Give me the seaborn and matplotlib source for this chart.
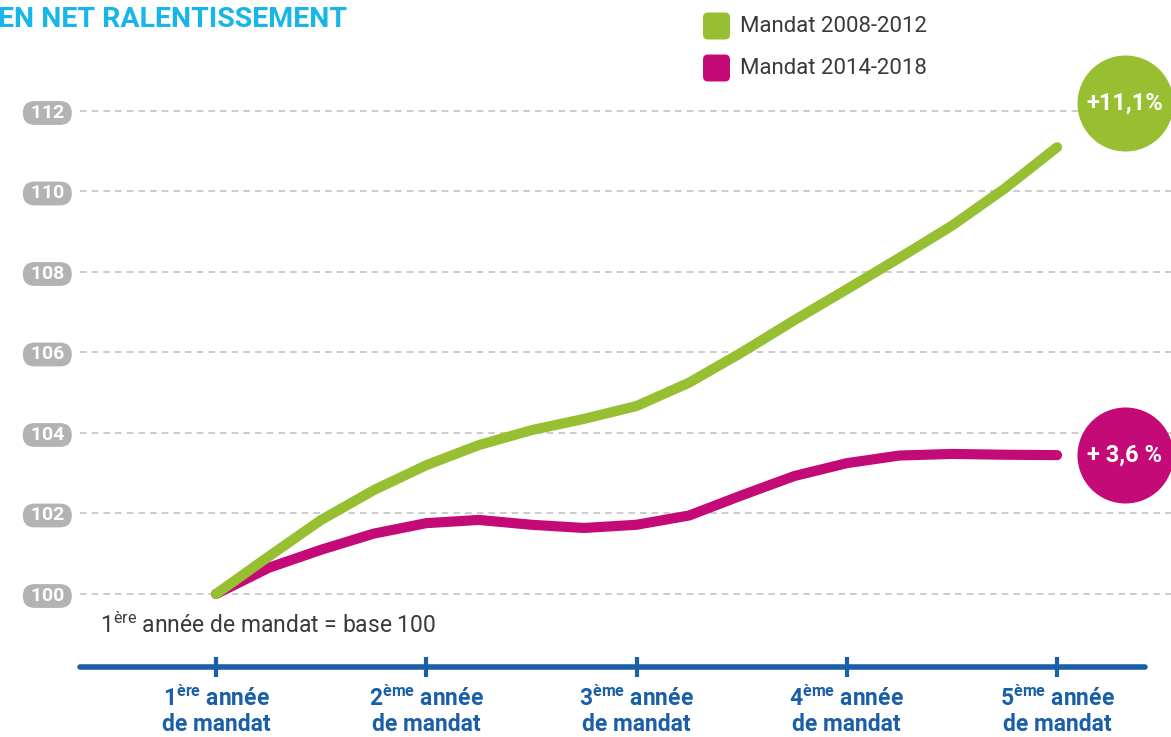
import numpy as np
import pandas as pd
import matplotlib
matplotlib.use("Agg")
import matplotlib.pyplot as plt
import seaborn as sns
from matplotlib.patches import FancyBboxPatch
from matplotlib.transforms import IdentityTransform

# Data (index, 1st year of mandate = base 100)
annees = [1.0, 1.25, 1.5, 1.75, 2.0, 2.25, 2.5, 2.75, 3.0,
          3.25, 3.5, 3.75, 4.0, 4.25, 4.5, 4.75, 5.0]
indice_2008 = [100.0, 100.93, 101.84, 102.58, 103.2, 103.7, 104.07, 104.35, 104.67,
               105.25, 106.0, 106.8, 107.57, 108.35, 109.15, 110.07, 111.1]
indice_2014 = [100.0, 100.65, 101.1, 101.5, 101.76, 101.84, 101.72, 101.64, 101.72,
               101.95, 102.45, 102.93, 103.25, 103.44, 103.48, 103.46, 103.45]
mandats = ["Mandat 2008-2012", "Mandat 2014-2018"]
hausses = ["+11,1%", "+ 3,6 %"]
y_ticks = [100, 102, 104, 106, 108, 110, 112]
x_ticks = [1, 2, 3, 4, 5]
x_labels = [r"1$^{\mathbf{ère}}$ année" + "\nde mandat",
            r"2$^{\mathbf{ème}}$ année" + "\nde mandat",
            r"3$^{\mathbf{ème}}$ année" + "\nde mandat",
            r"4$^{\mathbf{ème}}$ année" + "\nde mandat",
            r"5$^{\mathbf{ème}}$ année" + "\nde mandat"]

VERT = "#97bf31"
MAGENTA = "#c40a76"
BLEU = "#1a5fa8"
CYAN = "#17b6e8"
GRIS = "#b3b3b3"
TEXTE = "#3a3a3a"

sns.set_theme(style="white")
plt.rcParams["font.family"] = ["Roboto", "DejaVu Sans"]
plt.rcParams["mathtext.fontset"] = "custom"
plt.rcParams["mathtext.rm"] = "Roboto"
plt.rcParams["mathtext.bf"] = "Roboto:bold"
plt.rcParams["mathtext.it"] = "Roboto:italic"

df = pd.DataFrame({
    "annee": annees * 2,
    "indice": indice_2014 + indice_2008,
    "mandat": [mandats[1]] * len(annees) + [mandats[0]] * len(annees),
})

W, H = 1171, 737
fig = plt.figure(figsize=(W / 100, H / 100), dpi=100)
ax = fig.add_axes([80 / W, 1 - 690 / H, (W - 80) / W, 590 / H])

sns.lineplot(data=df, x="annee", y="indice", hue="mandat",
             hue_order=[mandats[1], mandats[0]],
             palette={mandats[0]: VERT, mandats[1]: MAGENTA},
             linewidth=7.3, legend=False, sort=False, ax=ax, zorder=3)
for line in ax.lines:
    line.set_solid_capstyle("round")
    line.set_solid_joinstyle("round")

ax.set_xlim(0.353, 5.542)
ax.set_ylim(97.615, 112.273)

# y axis: grey pills + dashed grid
ax.set_yticks(y_ticks)
ax.set_yticklabels([f" {v} " for v in y_ticks])
ax.tick_params(axis="y", labelsize=14, labelcolor="white", pad=8, length=0)
for lbl in ax.get_yticklabels():
    lbl.set_fontweight("bold")
    lbl.set_bbox(dict(boxstyle="round,pad=0.15,rounding_size=0.62", fc=GRIS, ec="none"))
ax.yaxis.grid(True, color="#c4c4c4", linewidth=1.2, linestyle=(0, (4, 3)))
ax.xaxis.grid(False)

# x axis: blue line with ticks
for s in ["top", "right", "left"]:
    ax.spines[s].set_visible(False)
sp = ax.spines["bottom"]
sp.set_position(("data", 98.19))
sp.set_bounds(0.353, 5.42)
sp.set_color(BLEU)
sp.set_linewidth(4)
sp.set_capstyle("round")
ax.set_xticks(x_ticks)
ax.set_xticklabels(x_labels, linespacing=1.12)
ax.tick_params(axis="x", direction="inout", length=15, width=3, color=BLEU,
               labelcolor=BLEU, labelsize=16.5, pad=6, bottom=True)
for lbl in ax.get_xticklabels():
    lbl.set_fontweight("bold")
ax.set_xlabel("")
ax.set_ylabel("")

# end circles with the growth figures
x_cercle = annees[-1] + 0.323
for y_c, couleur, txt in [(112.2, VERT, hausses[0]), (indice_2014[-1], MAGENTA, hausses[1])]:
    ax.scatter([x_cercle], [y_c], s=4780, color=couleur, linewidths=0, clip_on=False, zorder=6)
    ax.text(x_cercle, y_c, txt, ha="center", va="center", color="white",
            fontsize=17, fontweight="bold", zorder=7)

# title (cut at the left edge as in the source)
fig.text(-2 / W, 1 - 27 / H, "EN NET RALENTISSEMENT", ha="left", va="baseline",
         color=CYAN, fontsize=20.5, fontweight="bold")

# legend
for i, (nom, couleur) in enumerate(zip(mandats, [VERT, MAGENTA])):
    yc = 26 + 42 * i
    fig.add_artist(FancyBboxPatch((703, H - yc - 13.5), 27, 27,
                                  boxstyle="round,pad=0,rounding_size=5",
                                  fc=couleur, ec="none", transform=IdentityTransform()))
    fig.text(740 / W, 1 - yc / H, nom, ha="left", va="center", color=TEXTE, fontsize=16)

# base note
fig.text(100 / W, 1 - 633 / H, r"1$^{\mathrm{ère}}$ année de mandat = base 100",
         ha="left", va="baseline", color=TEXTE, fontsize=16.5)

fig.savefig("out.png", dpi=100)
